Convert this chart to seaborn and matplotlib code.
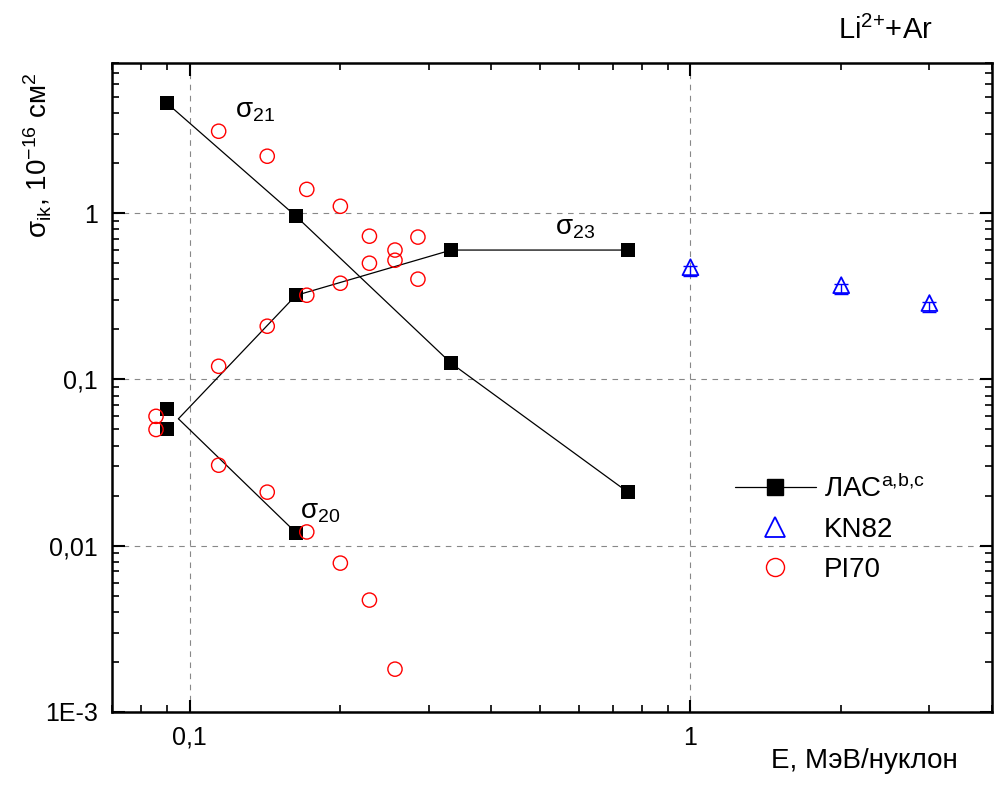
import numpy as np
import pandas as pd
import matplotlib
matplotlib.use("Agg")
import matplotlib.pyplot as plt
import seaborn as sns
from matplotlib.ticker import LogLocator, NullFormatter, FixedLocator, FixedFormatter
from matplotlib.lines import Line2D

# ---------------- data ----------------
# ЛАС (black squares)
las_E = [0.09, 0.163, 0.333, 0.75]
las_s21 = [4.6, 0.96, 0.125, 0.021]
las_E23 = [0.09, 0.163, 0.333, 0.75]
las_s23 = [0.066, 0.32, 0.60, 0.60]
las_E20 = [0.09, 0.163]
las_s20 = [0.050, 0.012]
# connecting lines of σ23 and σ20 start from a common node
line23_E = [0.095, 0.163, 0.333, 0.75]
line23_s = [0.058, 0.32, 0.60, 0.60]
line20_E = [0.095, 0.163]
line20_s = [0.058, 0.012]

# PI70 (red open circles)
pi70_E = [0.0857, 0.0857, 0.1143, 0.1429, 0.1714, 0.2, 0.2286, 0.2286, 0.2571, 0.2571,
          0.2857, 0.2857, 0.1714, 0.2, 0.1429, 0.1143, 0.1143, 0.1429, 0.1714, 0.2,
          0.2286, 0.2571]
pi70_s = [0.060, 0.050, 3.11, 2.20, 1.39, 1.10, 0.727, 0.50, 0.60, 0.521,
          0.718, 0.401, 0.321, 0.379, 0.209, 0.120, 0.0305, 0.021, 0.0121, 0.00786,
          0.00471, 0.00181]

# KN82 (blue open triangles)
kn82_E = [1.0, 2.0, 3.0]
kn82_s = [0.473, 0.369, 0.288]
kn82_err_lo = [0.055, 0.043, 0.034]
kn82_err_hi = [0.01, 0.008, 0.006]

x_ticks = [0.1, 1]
x_tick_labels = ["0,1", "1"]
y_ticks = [1e-3, 1e-2, 1e-1, 1]
y_tick_labels = ["1E-3", "0,01", "0,1", "1"]

# ---------------- style ----------------
sns.set_style("ticks")
plt.rcParams["font.family"] = ["Liberation Sans", "DejaVu Sans"]
plt.rcParams["mathtext.fontset"] = "custom"
plt.rcParams["mathtext.rm"] = "Liberation Sans"
plt.rcParams["mathtext.it"] = "Liberation Sans"
plt.rcParams["mathtext.bf"] = "Liberation Sans:bold"
for k in ["text.color", "axes.labelcolor", "xtick.color", "ytick.color",
          "axes.edgecolor"]:
    plt.rcParams[k] = "black"

fig = plt.figure(figsize=(10.01, 7.87), dpi=100)
ax = fig.add_axes([112 / 1001, 1 - 712 / 787, 880 / 1001, 649 / 787])
ax.set_xscale("log")
ax.set_yscale("log")

# lines
for xs, ys in [(las_E, las_s21), (line23_E, line23_s), (line20_E, line20_s)]:
    sns.lineplot(x=xs, y=ys, ax=ax, color="black", lw=0.9, estimator=None, sort=False,
                 zorder=3)

# PI70 circles
sns.scatterplot(x=pi70_E, y=pi70_s, ax=ax, marker="o", s=105, zorder=5)
c = ax.collections[-1]
c.set_facecolor("none"); c.set_edgecolor("red"); c.set_linewidth(1.0)

# ЛАС squares
for xs, ys in [(las_E, las_s21), (las_E23, las_s23), (las_E20, las_s20)]:
    sns.scatterplot(x=xs, y=ys, ax=ax, marker="s", s=88, color="black", linewidth=0,
                    zorder=4)

# KN82 triangles with error bars
ax.errorbar(kn82_E, kn82_s, yerr=[kn82_err_lo, kn82_err_hi], fmt="none",
            ecolor="blue", elinewidth=1.0, capsize=5, capthick=1.0, zorder=5)
sns.scatterplot(x=kn82_E, y=kn82_s, ax=ax, marker="^", s=130, zorder=6)
c = ax.collections[-1]
c.set_facecolor("none"); c.set_edgecolor("blue"); c.set_linewidth(1.3)

# axes
ax.set_xlim(0.07, 4)
ax.set_ylim(1e-3, 8)
ax.xaxis.set_major_locator(FixedLocator(x_ticks))
ax.xaxis.set_major_formatter(FixedFormatter(x_tick_labels))
ax.yaxis.set_major_locator(FixedLocator(y_ticks))
ax.yaxis.set_major_formatter(FixedFormatter(y_tick_labels))
ax.xaxis.set_minor_locator(LogLocator(base=10, subs=np.arange(2, 10), numticks=20))
ax.yaxis.set_minor_locator(LogLocator(base=10, subs=np.arange(2, 10), numticks=20))
ax.xaxis.set_minor_formatter(NullFormatter())
ax.yaxis.set_minor_formatter(NullFormatter())

ax.tick_params(which="both", direction="in", top=True, right=True, color="black",
               labelcolor="black")
ax.tick_params(which="major", length=9, width=1.5, labelsize=18, pad=10)
ax.tick_params(which="minor", length=5, width=1.2)
for sp in ax.spines.values():
    sp.set_linewidth(1.8)
    sp.set_color("black")
    sp.set_visible(True)

ax.grid(True, which="major", ls=(0, (5, 5)), color="#888888", lw=0.8)
ax.grid(False, which="minor")

ax.set_xlabel("E, МэВ/нуклон", fontsize=20, color="black")
ax.xaxis.label.set_ha("right")
ax.xaxis.set_label_coords((958 - 112) / 880, -0.055)
ax.set_ylabel("σ$_{ik}$, 10$^{-16}$ см$^{2}$", fontsize=20, color="black")
ax.yaxis.set_label_coords(-0.066, 0.858)

# annotations
ax.text(0.123, 3.78, r"σ$_{21}$", fontsize=20, ha="left", va="baseline")
ax.text(0.537, 0.748, r"σ$_{23}$", fontsize=20, ha="left", va="baseline")
ax.text(0.166, 0.0145, r"σ$_{20}$", fontsize=20, ha="left", va="baseline")

fig.text(0.884, 0.962, r"$\mathregular{Li^{2{+}}{+}Ar}$", fontsize=21, ha="center",
         va="center")

handles = [
    Line2D([], [], color="black", lw=0.9, marker="s", ms=11.5, mec="black",
           label="ЛАС$^{a{,}b{,}c}$"),
    Line2D([], [], ls="none", marker="^", ms=14, mfc="none", mec="blue", mew=1.3,
           label="KN82"),
    Line2D([], [], ls="none", marker="o", ms=13, mfc="none", mec="red", mew=1.0,
           label="PI70"),
]
ax.legend(handles=handles, loc="upper left", bbox_to_anchor=((735 - 112) / 880, 0.366),
          frameon=False, fontsize=20, handlelength=2.9, handletextpad=0.3,
          labelspacing=0.5, borderpad=0, borderaxespad=0)

fig.savefig("out.png", dpi=100)
